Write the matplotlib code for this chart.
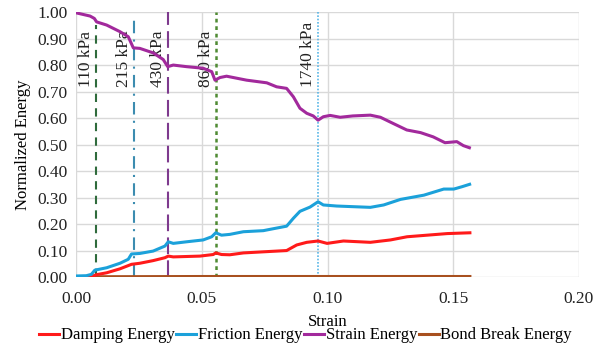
import matplotlib
matplotlib.use("Agg")
import matplotlib.pyplot as plt
from matplotlib.ticker import FormatStrFormatter, MultipleLocator

plt.rcParams['font.family'] = ['Liberation Serif', 'DejaVu Serif']

strain_se = [0.0, 0.0055, 0.0072, 0.0081, 0.0121, 0.0174, 0.0207, 0.0227, 0.0253, 0.0306, 0.0346,
             0.0364, 0.0386, 0.0439, 0.0505, 0.0539, 0.0552, 0.0572, 0.0598, 0.0678, 0.0758, 0.0797,
             0.0837, 0.0864, 0.0890, 0.0917, 0.0943, 0.0962, 0.0983, 0.1010, 0.1050, 0.1100, 0.1170,
             0.1210, 0.1260, 0.1315, 0.1370, 0.1420, 0.1467, 0.1514, 0.1540, 0.1564]
strain_energy = [0.997, 0.985, 0.976, 0.963, 0.951, 0.926, 0.907, 0.865, 0.863, 0.846, 0.821,
                 0.794, 0.800, 0.794, 0.788, 0.775, 0.743, 0.753, 0.758, 0.743, 0.733, 0.718,
                 0.712, 0.680, 0.637, 0.618, 0.608, 0.592, 0.605, 0.610, 0.603, 0.608, 0.611,
                 0.603, 0.580, 0.555, 0.545, 0.529, 0.507, 0.511, 0.496, 0.488]

strain_fe = [0.0, 0.004, 0.006, 0.0074, 0.0121, 0.0174, 0.0207, 0.0220, 0.0253, 0.0306, 0.0353,
             0.0366, 0.0386, 0.0439, 0.0505, 0.0539, 0.0555, 0.0578, 0.0611, 0.0665, 0.0744, 0.0771,
             0.0837, 0.0864, 0.0890, 0.0930, 0.0962, 0.0983, 0.1036, 0.1116, 0.1170, 0.1223, 0.1290,
             0.1383, 0.1462, 0.1502, 0.1535, 0.1565]
friction_energy = [0.004, 0.005, 0.010, 0.026, 0.035, 0.052, 0.067, 0.087, 0.089, 0.098, 0.117,
                   0.133, 0.127, 0.133, 0.140, 0.152, 0.167, 0.158, 0.161, 0.171, 0.175, 0.180,
                   0.192, 0.222, 0.248, 0.264, 0.284, 0.272, 0.268, 0.265, 0.263, 0.272, 0.293,
                   0.309, 0.332, 0.332, 0.341, 0.350]

strain_de = [0.0, 0.0060, 0.0081, 0.0121, 0.0174, 0.0220, 0.0253, 0.0306, 0.0353, 0.0366, 0.0386,
             0.0492, 0.0545, 0.0555, 0.0578, 0.0611, 0.0665, 0.0837, 0.0877, 0.0917, 0.0962, 0.0998,
             0.1063, 0.1170, 0.1250, 0.1316, 0.1396, 0.1476, 0.1566]
damping_energy = [0.0, 0.002, 0.009, 0.016, 0.031, 0.048, 0.052, 0.062, 0.073, 0.079, 0.076,
                  0.079, 0.085, 0.091, 0.085, 0.084, 0.091, 0.100, 0.121, 0.131, 0.136, 0.127,
                  0.136, 0.131, 0.140, 0.152, 0.158, 0.164, 0.167]

strain_bb = [0.0, 0.05, 0.10, 0.1566]
bond_break_energy = [0.001, 0.002, 0.002, 0.002]

pressure_labels = ['110 kPa', '215 kPa', '430 kPa', '860 kPa', '1740 kPa']
pressure_strain = [0.0077, 0.0228, 0.0366, 0.0555, 0.0962]
pressure_top = [0.95, 0.98, 1.0, 1.0, 1.0]

fig = plt.figure(figsize=(6.05, 3.45), dpi=100)
ax = fig.add_axes([0.126, 0.197, 0.831, 0.768])

vstyles = [
    dict(color='#2F6B3C', linestyle=(0, (4, 3)), lw=1.5),
    dict(color='#3C8CB0', linestyle=(0, (6, 3, 1, 3)), lw=1.5),
    dict(color='#7E3A8E', linestyle=(0, (8, 3)), lw=1.5),
    dict(color='#4F8A33', linestyle=(0, (1.5, 1.5)), lw=1.8),
    dict(color='#5AB6E6', linestyle=(0, (1, 1)), lw=1.2),
]
for xs, top, lab, st in zip(pressure_strain, pressure_top, pressure_labels, vstyles):
    ax.plot([xs, xs], [0, top], zorder=3, **st)
    ax.text(xs - 0.0008, 0.717, lab, rotation=90, ha='right', va='bottom', fontsize=12.5,
            color='#222222', zorder=4)

ax.plot(strain_de, damping_energy, color='#FF1A1A', lw=2.2, zorder=5, label='Damping Energy')
ax.plot(strain_fe, friction_energy, color='#1BA1DA', lw=2.2, zorder=5, label='Friction Energy')
ax.plot(strain_se, strain_energy, color='#A2299C', lw=2.2, zorder=5, label='Strain Energy')
ax.plot(strain_bb, bond_break_energy, color='#A8501F', lw=2.2, zorder=4, label='Bond Break Energy')

ax.set_xlim(0, 0.20)
ax.set_ylim(0, 1.0)
ax.xaxis.set_major_locator(MultipleLocator(0.05))
ax.yaxis.set_major_locator(MultipleLocator(0.10))
ax.xaxis.set_major_formatter(FormatStrFormatter('%.2f'))
ax.yaxis.set_major_formatter(FormatStrFormatter('%.2f'))
ax.grid(True, color='#D9D9D9', lw=1.0, zorder=0)
ax.set_axisbelow(True)
for s in ax.spines.values():
    s.set_visible(False)
ax.tick_params(axis='x', length=0, labelsize=12.5, colors='#222222', pad=10)
ax.tick_params(axis='y', length=0, labelsize=12.5, colors='#222222', pad=6)
ax.set_xlabel('Strain', fontsize=12, labelpad=5)
ax.set_ylabel('Normalized Energy', fontsize=12, labelpad=5)

fig.legend(loc='center', bbox_to_anchor=(0.505, 0.028), ncol=4, frameon=False, fontsize=12,
           handlelength=1.2, handletextpad=0.1, columnspacing=0.1, borderaxespad=0)

fig.savefig('out.png', dpi=100)
